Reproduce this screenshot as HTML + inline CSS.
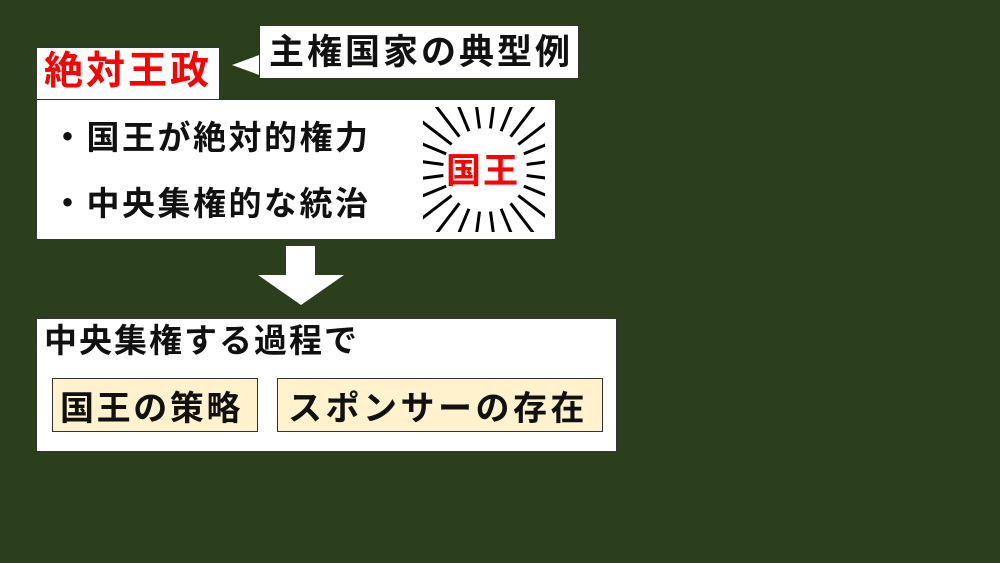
<!DOCTYPE html>
<html><head><meta charset="utf-8"><style>
body{margin:0;width:1000px;height:563px;background:#2c3f1c;position:relative;overflow:hidden;font-family:"Liberation Sans","Noto Sans CJK JP",sans-serif;font-weight:bold}
.b{position:absolute;background:#fff;border:1px solid #333;box-sizing:border-box}
.t{position:absolute;white-space:nowrap;color:#111}
</style></head><body>
<div class="b" style="left:36px;top:47px;width:184px;height:53px"></div>
<div class="t" style="left:44px;top:40px;font-size:39px;color:#f00;letter-spacing:3px">絶対王政</div>
<svg style="position:absolute;left:0;top:0" width="1000" height="563">
<polygon points="232,65 262,54 262,76" fill="#fff"/>
</svg>
<div class="b" style="left:259px;top:25px;width:320px;height:54px"></div>
<div class="t" style="left:269px;top:24px;font-size:35px;letter-spacing:3px">主権国家の典型例</div>
<div class="b" style="left:36px;top:99px;width:520px;height:141px"></div>
<div class="t" style="left:51px;top:111px;font-size:33px;letter-spacing:2.5px">・国王が絶対的権力</div>
<div class="t" style="left:51px;top:177px;font-size:33px;letter-spacing:2.5px">・中央集権的な統治</div>
<svg style="position:absolute;left:0;top:0" width="1000" height="563">
<defs><clipPath id="c"><rect x="423" y="107" width="122" height="125"/></clipPath></defs>
<g clip-path="url(#c)" stroke="#000" stroke-width="3">
<line x1="526.6" y1="175.5" x2="574.2" y2="181.8"/><line x1="523.8" y1="186.1" x2="568.2" y2="204.5"/><line x1="518.3" y1="195.6" x2="556.4" y2="224.8"/><line x1="510.6" y1="203.3" x2="539.8" y2="241.4"/><line x1="501.1" y1="208.8" x2="519.5" y2="253.2"/><line x1="490.5" y1="211.6" x2="496.8" y2="259.2"/>
<line x1="443.4" y1="175.5" x2="395.8" y2="181.8"/><line x1="446.2" y1="186.1" x2="401.8" y2="204.5"/><line x1="451.7" y1="195.6" x2="413.6" y2="224.8"/><line x1="459.4" y1="203.3" x2="430.2" y2="241.4"/><line x1="468.9" y1="208.8" x2="450.5" y2="253.2"/><line x1="479.5" y1="211.6" x2="473.2" y2="259.2"/>
<line x1="526.6" y1="164.5" x2="574.2" y2="158.2"/><line x1="523.8" y1="153.9" x2="568.2" y2="135.5"/><line x1="518.3" y1="144.4" x2="556.4" y2="115.2"/><line x1="510.6" y1="136.7" x2="539.8" y2="98.6"/><line x1="501.1" y1="131.2" x2="519.5" y2="86.8"/><line x1="490.5" y1="128.4" x2="496.8" y2="80.8"/>
<line x1="443.4" y1="164.5" x2="395.8" y2="158.2"/><line x1="446.2" y1="153.9" x2="401.8" y2="135.5"/><line x1="451.7" y1="144.4" x2="413.6" y2="115.2"/><line x1="459.4" y1="136.7" x2="430.2" y2="98.6"/><line x1="468.9" y1="131.2" x2="450.5" y2="86.8"/><line x1="479.5" y1="128.4" x2="473.2" y2="80.8"/>
</g>
<polygon points="286,246 315,246 315,275 344,275 301,305 258,275 286,275" fill="#fff"/>
</svg>
<div class="t" style="left:446px;top:143px;font-size:35px;color:#f00;letter-spacing:2px">国王</div>
<div class="b" style="left:36px;top:318px;width:581px;height:134px"></div>
<div class="t" style="left:44px;top:314px;font-size:33px;letter-spacing:2px">中央集権する過程で</div>
<div class="b" style="left:52px;top:378px;width:206px;height:54px;background:#fff2cc"></div>
<div class="t" style="left:60px;top:381px;font-size:34px;letter-spacing:2.6px">国王の策略</div>
<div class="b" style="left:277px;top:378px;width:326px;height:54px;background:#fff2cc"></div>
<div class="t" style="left:288px;top:381px;font-size:34px;letter-spacing:3.5px">スポンサーの存在</div>
</body></html>
